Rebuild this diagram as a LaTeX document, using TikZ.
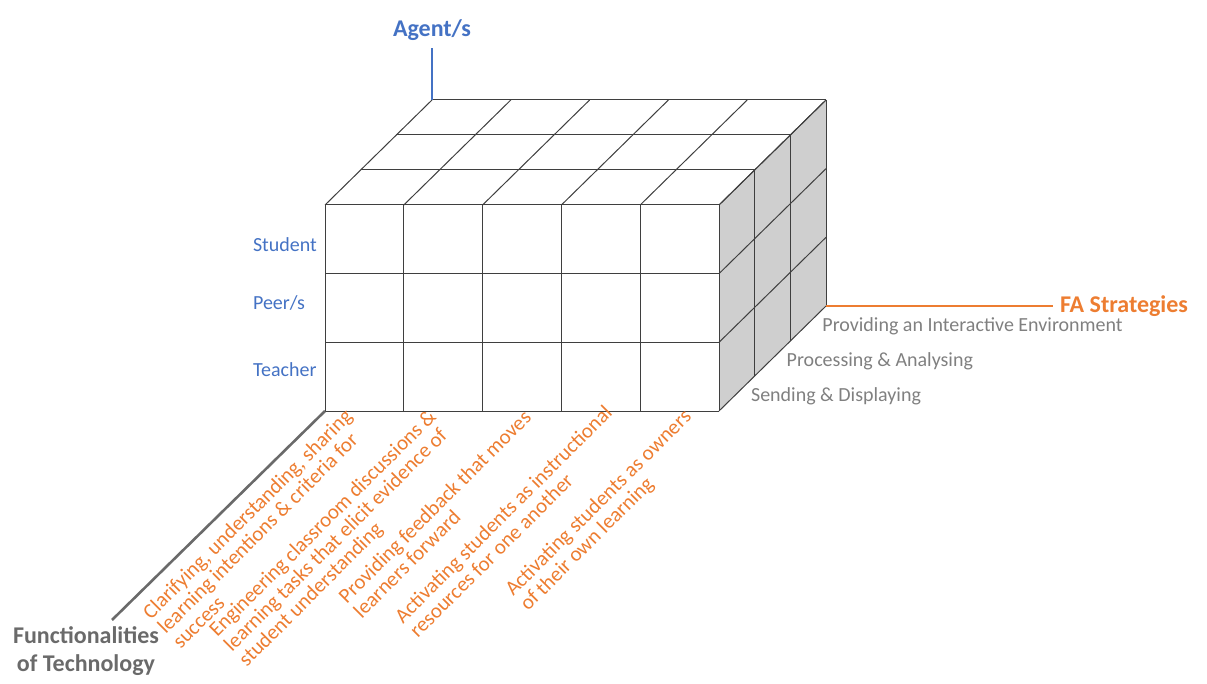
\documentclass[tikz,border=0pt]{standalone}
\usepackage{fontspec}
\setmainfont{Carlito}
\usepackage{xcolor}
\usetikzlibrary{calc,positioning}
\definecolor{agentblue}{HTML}{4472C4}
\definecolor{faorange}{HTML}{ED7D31}
\definecolor{techgray}{HTML}{808080}
\definecolor{axisgray}{HTML}{6A6A6A}
\definecolor{sidegray}{HTML}{CFCFCF}
\definecolor{edgegray}{HTML}{3F3F3F}

\begin{document}
\begin{tikzpicture}[x=0.5pt,y=-0.5pt,
	edge/.style={draw=edgegray,line width=0.5pt},
	axis/.style={line width=1.3pt},
	heading/.style={font=\bfseries\fontsize{12}{14}\selectfont,align=center},
	agentlbl/.style={anchor=west,text=agentblue,font=\fontsize{10}{12}\selectfont},
	mediumlbl/.style={anchor=west,text=techgray,font=\fontsize{10}{12}\selectfont},
	stratlbl/.style={anchor=north east,rotate=45,align=left,inner sep=0pt,text=faorange,font=\fontsize{10.5}{10.5}\selectfont}]
	\useasboundingbox (0,0) rectangle (1207,684);
	% corners of the block
	\coordinate (ftl) at (325,205);
	\coordinate (fbl) at (325,411);
	\coordinate (fbr) at (719,411);
	\coordinate (ftr) at (719,205);
	\coordinate (btl) at (432,100);
	\coordinate (btr) at (826,100);
	\coordinate (bbr) at (826,306);
	\fill[sidegray] (ftr) -- (btr) -- (bbr) -- (fbr) -- cycle;
	\foreach \x in {0,...,5} {
		\draw[edge] ($(ftl)+(78.8*\x,0)$) coordinate (top\x) -- ($(fbl)+(78.8*\x,0)$) coordinate (col\x);
		\draw[edge] (top\x) -- ++(107,-105);
	};
	\foreach \y in {0,...,3} {
		\draw[edge] ($(ftl)+(0,68.67*\y)$) -- ($(ftr)+(0,68.67*\y)$) coordinate (side\y);
		\draw[edge] (side\y) -- ++(107,-105);
		\draw[edge] ($(ftl)+(35.67*\y,-35*\y)$) -- ++(394,0);
		\draw[edge] ($(ftr)+(35.67*\y,-35*\y)$) -- ++(0,206);
	};
	
	% agents
	\node[agentlbl] (stud) at (246,245) {Student};
	\node[agentlbl] (peer) at (246,303) {Peer/s};
	\node[agentlbl] (teach) at (246,370) {Teacher};
	
	% functionalities
	\foreach \k/\txt in {0/Sending \& Displaying, 1/Processing \& Analysing, 2/Providing an Interactive Environment}
		\node[mediumlbl] (fun\k) at ($(fbr)+(35.67*\k+25,-35*\k-15)$) {\txt};
	
	% strategies
	\foreach \px/\py/\txt [count=\i] in {343/407/{Clarifying, understanding, sharing\\learning intentions \& criteria for\\success}, 427/407/{Engineering classroom discussions \&\\learning tasks that elicit evidence of\\student understanding}, 522/408/{Providing feedback that moves\\learners forward}, 603/403/{Activating students as instructional\\resources for one another}, 682/407/{Activating students as owners\\of their own learning}}
		\node[stratlbl] (fa\i) at (\px,\py) {\txt};
	
	\draw[axis,agentblue] (btl) -- ++(0,-52) coordinate (agentp);
	\node[heading,anchor=south,text=agentblue] (agent) at (agentp) {Agent/s};
	\draw[axis,faorange] (bbr) -- ++(227,0) coordinate (stratp);
	\node[heading,anchor=west,text=faorange] (strat) at (stratp) {FA Strategies};
	\draw[axis,axisgray] (fbl) -- ++(-213,209) coordinate (techp);
	\node[heading,anchor=north,text=axisgray] (tech) at ($(techp)+(-26,0)$) {Functionalities\\of Technology};
\end{tikzpicture}
\end{document}
